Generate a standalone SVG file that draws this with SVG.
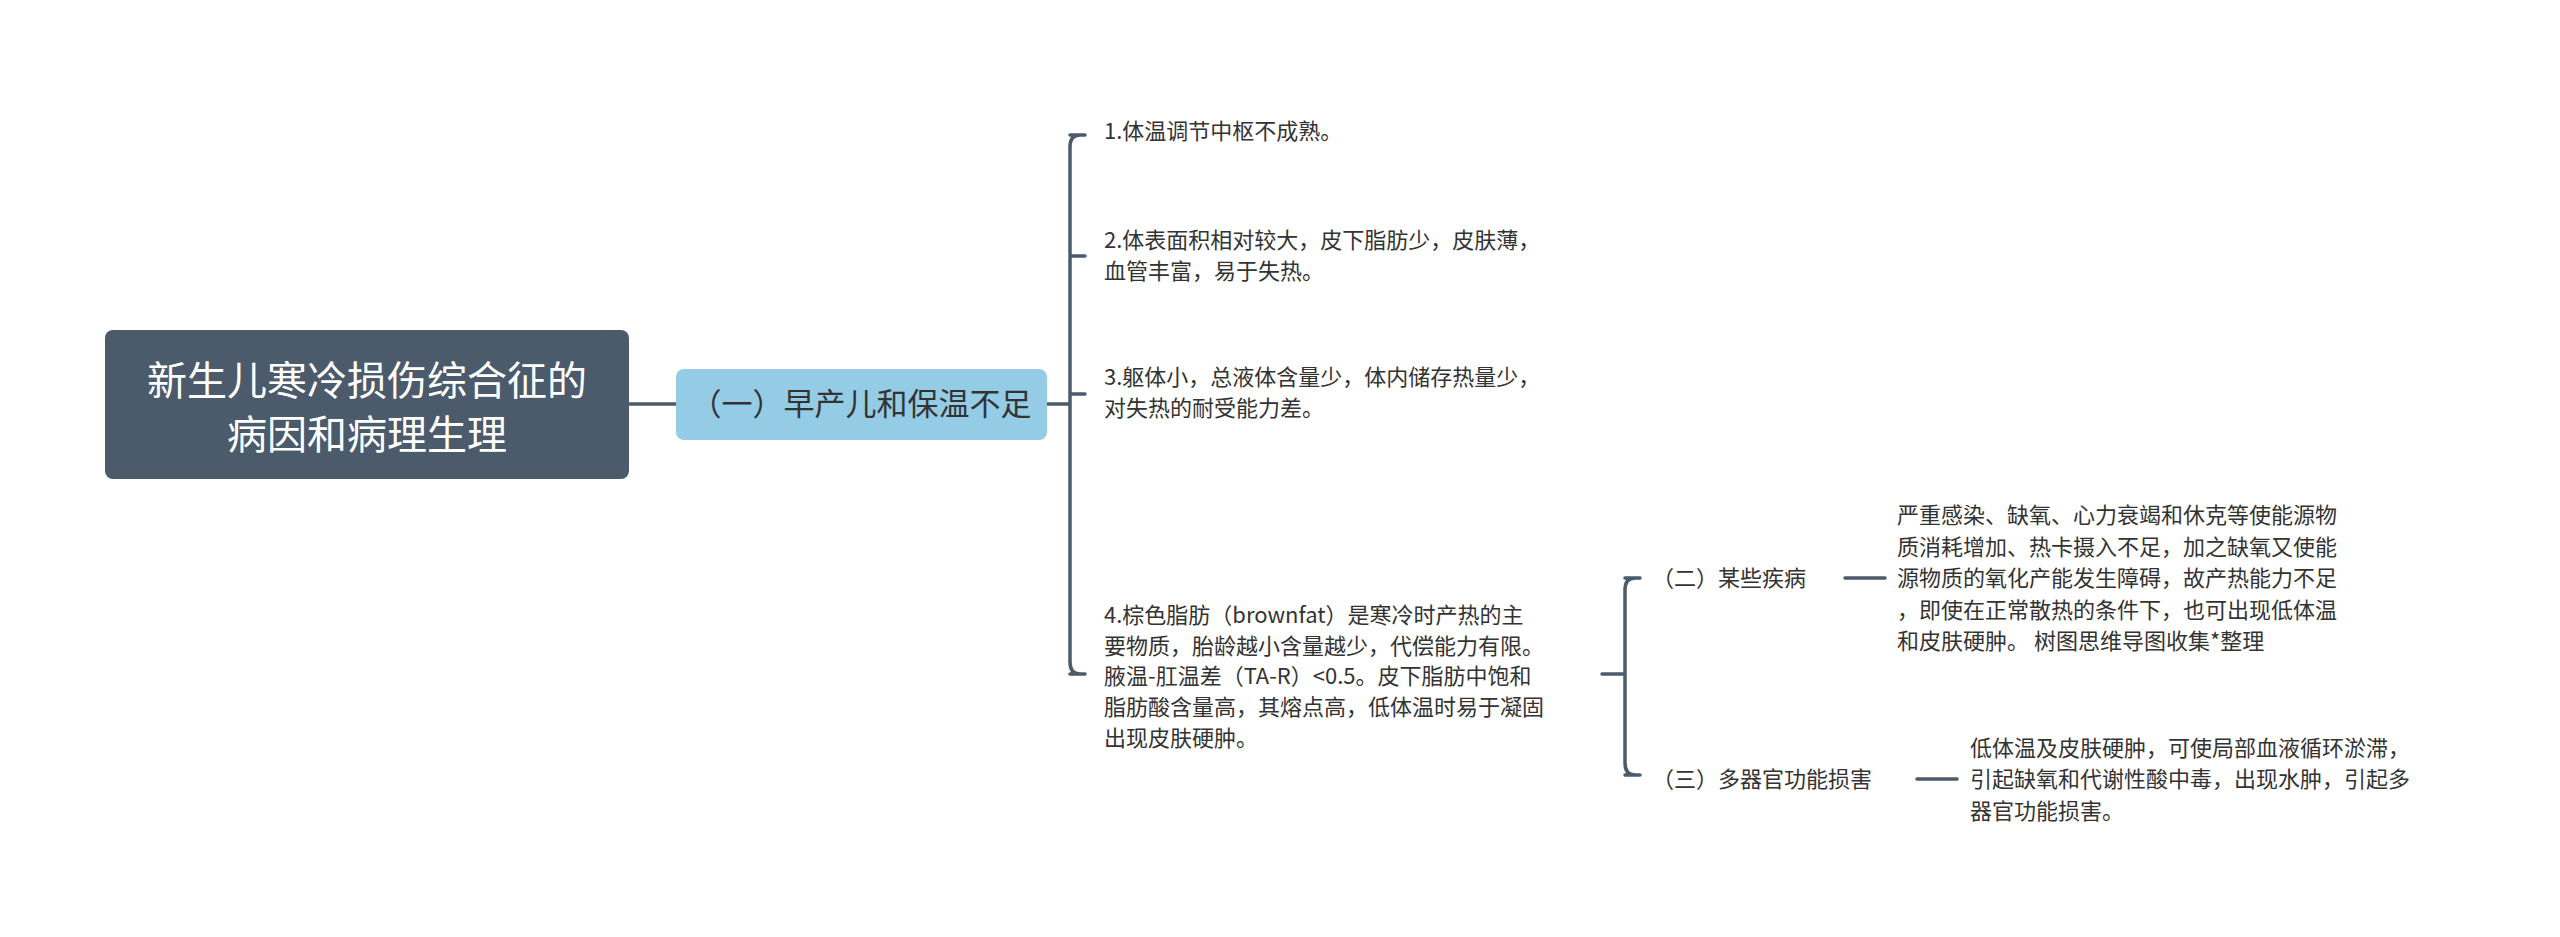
<svg xmlns="http://www.w3.org/2000/svg" width="2560" height="937" viewBox="0 0 2560 937">
<style>
text{font-family:"Noto Sans CJK SC","Noto Sans",sans-serif;fill:#333}
.leaf{font-size:22px}
.c{fill:none;stroke:#4b5b6b;stroke-width:3.5;stroke-linecap:round}
</style>
<rect width="2560" height="937" fill="#fff"/>
<g id="connectors">
<path class="c" d="M629 404H676"/>
<path class="c" d="M1047 404H1070M1080 135Q1070 135 1070 147V662Q1070 674 1080 674M1070 135H1085M1070 256H1085M1070 394H1085M1070 674H1085"/>
<path class="c" d="M1602 674H1625M1635 578Q1625 578 1625 590V763Q1625 775 1635 775M1625 578H1640M1625 775H1640"/>
<path class="c" d="M1845 578H1885M1917 779H1957"/>
</g>
<g id="root"><rect x="105" y="330" width="524" height="149" rx="8" fill="#4b5b6b"/>
<text x="367" y="395" font-size="40" text-anchor="middle" style="fill:#fff">新生儿寒冷损伤综合征的</text>
<text x="367" y="449" font-size="40" text-anchor="middle" style="fill:#fff">病因和病理生理</text></g>
<g id="n1"><rect x="676" y="369" width="371" height="71" rx="8" fill="#94cce6"/>
<text x="861" y="415" font-size="31" text-anchor="middle">（一）早产儿和保温不足</text></g>
<g id="l1"><text class="leaf" x="1104" y="139">1.体温调节中枢不成熟。</text></g>
<g id="l2"><text class="leaf" x="1104" y="248">2.体表面积相对较大，皮下脂肪少，皮肤薄，</text><text class="leaf" x="1104" y="279">血管丰富，易于失热。</text></g>
<g id="l3"><text class="leaf" x="1104" y="385">3.躯体小，总液体含量少，体内储存热量少，</text><text class="leaf" x="1104" y="416">对失热的耐受能力差。</text></g>
<g id="l4"><text class="leaf" x="1104" y="623">4.棕色脂肪（brownfat）是寒冷时产热的主</text><text class="leaf" x="1104" y="654">要物质，胎龄越小含量越少，代偿能力有限。</text><text class="leaf" x="1104" y="684">腋温-肛温差（TA-R）&lt;0.5。皮下脂肪中饱和</text><text class="leaf" x="1104" y="715">脂肪酸含量高，其熔点高，低体温时易于凝固</text><text class="leaf" x="1104" y="746">出现皮肤硬肿。</text></g>
<g id="n2"><text class="leaf" x="1652" y="586">（二）某些疾病</text></g>
<g id="n2t"><text class="leaf" x="1897" y="523">严重感染、缺氧、心力衰竭和休克等使能源物</text><text class="leaf" x="1897" y="555">质消耗增加、热卡摄入不足，加之缺氧又使能</text><text class="leaf" x="1897" y="586">源物质的氧化产能发生障碍，故产热能力不足</text><text class="leaf" x="1897" y="618">，即使在正常散热的条件下，也可出现低体温</text><text class="leaf" x="1897" y="649">和皮肤硬肿。 树图思维导图收集*整理</text></g>
<g id="n3"><text class="leaf" x="1652" y="787">（三）多器官功能损害</text></g>
<g id="n3t"><text class="leaf" x="1970" y="756">低体温及皮肤硬肿，可使局部血液循环淤滞，</text><text class="leaf" x="1970" y="787">引起缺氧和代谢性酸中毒，出现水肿，引起多</text><text class="leaf" x="1970" y="819">器官功能损害。</text></g>
</svg>
